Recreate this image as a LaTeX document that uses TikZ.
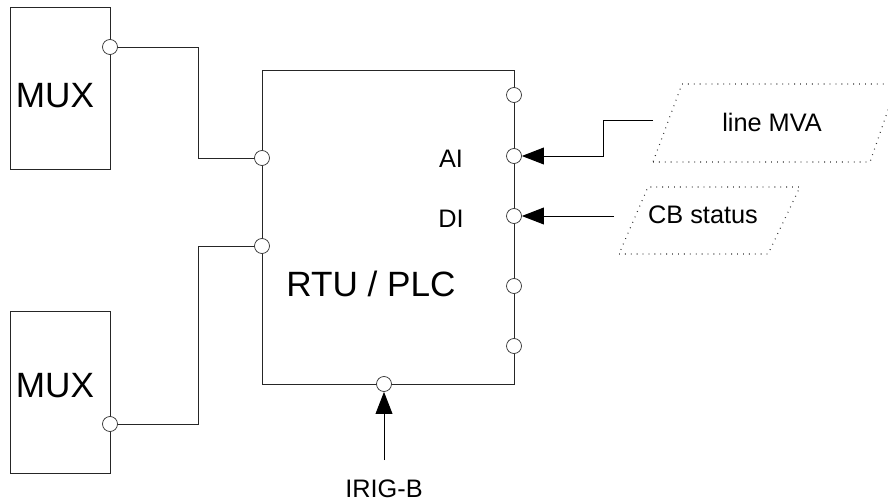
\documentclass[tikz,border=0pt]{standalone}
\usepackage{fontspec}
\setmainfont{Liberation Sans}
\usepackage{tikz}
\usetikzlibrary{positioning,arrows.meta}
\tikzset{
  rtubox/.style={rectangle, draw=black!85, line width=0.7pt, minimum width=6.3cm,
                 minimum height=7.85cm, inner sep=0pt},
  muxbox/.style={rectangle, draw=black!85, line width=0.7pt, minimum width=2.5cm,
                 minimum height=4.05cm, inner sep=0pt},
  port/.style={circle, draw=black!80, fill=white, line width=0.5pt, minimum size=0.375cm,
               inner sep=0pt},
  biglab/.style={font=\fontsize{25}{30}\selectfont, inner sep=0pt},
  smalllab/.style={font=\fontsize{18}{22}\selectfont, inner sep=0pt},
  wire/.style={draw=black!85, line width=0.7pt},
  sig/.style={draw=black, line width=0.7pt, -{Triangle[length=0.55cm, width=0.42cm]}},
  sigsrc/.style={draw=black!80, line width=0.8pt, dash pattern=on 0.6pt off 3.6pt},
}

\begin{document}
\begin{tikzpicture}
  \useasboundingbox (0,0) rectangle (22.2,12.575);
  % boxes
  \node[muxbox] (mux1) at (1.5,10.375) {};
  \node[biglab] (mux1lab) at (1.375,10.175) {MUX};
  \node[muxbox] (mux2) at (1.5,2.775) {};
  \node[biglab] (mux2lab) at (1.375,2.925) {MUX};
  \node[rtubox] (rtu) at (9.7,6.9) {};
  \node[biglab] (rtulab) at (9.275,5.475) {RTU / PLC};
  \node[smalllab] (ailab) at (11.275,8.6) {AI};
  \node[smalllab] (dilab) at (11.275,7.1) {DI};
  % signal sources
  \draw[sigsrc] (16.325,8.525) -- (21.75,8.525) -- (22.425,10.475) -- (17.05,10.475) -- cycle;
  \node[smalllab] (mva) at (19.3,9.525) {line MVA};
  \draw[sigsrc] (15.475,6.225) -- (19.2,6.225) -- (20,7.9) -- (16.2,7.9) -- cycle;
  \node[smalllab] (cb) at (17.575,7.2) {CB status};
  \node[smalllab] (irig) at (9.6,0.35) {IRIG-B};
  % helper points
  \coordinate (bus) at (4.95,0);
  \coordinate (mvaend) at (16.325,9.575);
  \coordinate (mvabend) at (15.075,0);
  \coordinate (cbend) at (15.35,7.175);
  \coordinate (irigend) at (9.6,1.075);
  % wires
  \draw[wire] (2.75,11.4) -- (2.75,11.4 -| bus) |- (6.55,8.625);
  \draw[wire] (2.75,1.975) -- (2.75,1.975 -| bus) |- (6.55,6.425);
  % ports
  \node[port] (m1) at (2.75,11.4) {};
  \node[port] (m2) at (2.75,1.975) {};
  \node[port] (l1) at (6.55,8.625) {};
  \node[port] (l2) at (6.55,6.425) {};
  \node[port] (r1) at (12.85,10.2) {};
  \node[port] (ai) at (12.85,8.675) {};
  \node[port] (di) at (12.85,7.175) {};
  \node[port] (r4) at (12.85,5.425) {};
  \node[port] (r5) at (12.85,3.925) {};
  \node[port] (time) at (9.6,2.975) {};
  % inputs
  \draw[sig] (mvaend) -- (mvaend -| mvabend) |- (ai);
  \draw[sig] (cbend) -- (di);
  \draw[sig] (irigend) -- (time);
\end{tikzpicture}
\end{document}
